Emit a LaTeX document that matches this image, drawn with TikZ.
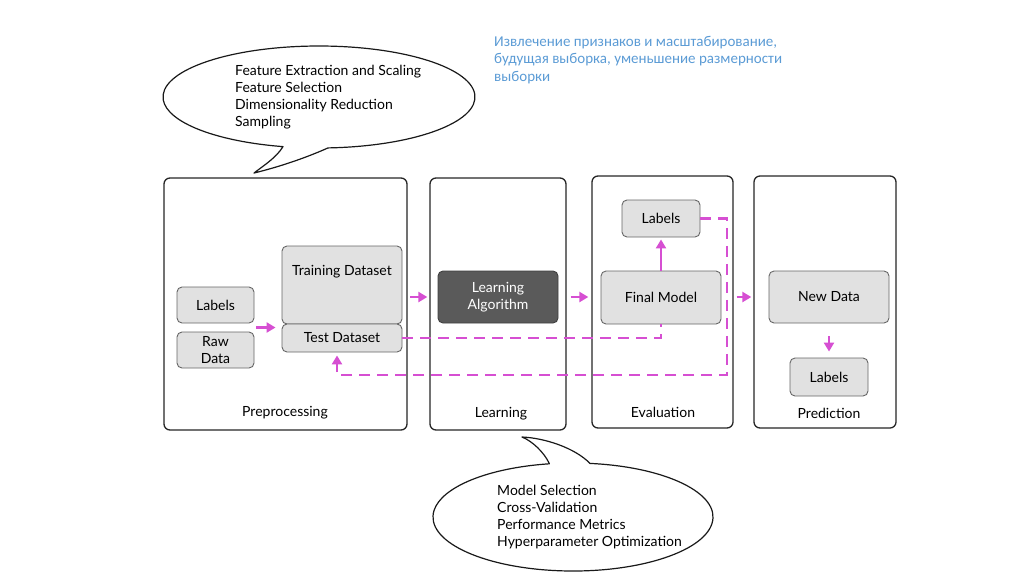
\documentclass[tikz,border=0pt]{standalone}
\usepackage{fontspec}
\setmainfont{Lato}
\newfontfamily\rufont{Carlito}
\usetikzlibrary{arrows.meta,calc}
\definecolor{flowmag}{HTML}{D64FD2}
\definecolor{noteblue}{HTML}{5B9BD5}
\definecolor{boxgray}{HTML}{E1E1E1}
\definecolor{algogray}{HTML}{5A5A5A}
\begin{document}
\begin{tikzpicture}[x=1pt,y=-1pt,
  stage/.style={draw=black!85, line width=1.3pt, rounded corners=6pt, fill=white, inner sep=0pt},
  inbox/.style={draw=black!60, line width=0.9pt, rounded corners=5pt, fill=boxgray,
    font=\fontsize{14}{16.5}\selectfont, align=center, inner sep=0pt},
  algobox/.style={inbox, draw=black!75, fill=algogray, text=white},
  txt/.style={font=\fontsize{14}{16.5}\selectfont, inner sep=0pt},
  listtxt/.style={font=\fontsize{14}{17}\selectfont, align=left, inner sep=0pt},
  flow/.style={draw=flowmag, line width=2.6pt, -{Triangle[length=9pt,width=10pt]}},
  backflow/.style={draw=flowmag, line width=2.5pt, dash pattern=on 11pt off 7pt},
  bubble/.style={draw=black!90, line width=1.2pt, fill=white, line join=round}
]
\useasboundingbox (0,0) rectangle (1024,574);

% stage frames
\node[stage, minimum width=243, minimum height=252] (pre) at (285.5,304) {};
\node[stage, minimum width=136, minimum height=252] (lrn) at (498,304) {};
\node[stage, minimum width=141, minimum height=252] (evl) at (662.5,302) {};
\node[stage, minimum width=142, minimum height=252] (prd) at (825,302) {};

\node[txt] (pretitle) at (285,413) {Preprocessing};
\node[txt] (lrntitle) at (501,414) {Learning};
\node[txt] (evltitle) at (663,412) {Evaluation};
\node[txt] (prdtitle) at (829,413) {Prediction};

% preprocessing
\node[inbox, minimum width=77, minimum height=36] (labin) at (215.5,305) {Labels};
\node[inbox, minimum width=77, minimum height=36] (raw) at (215.5,350) {Raw\\Data};
\node[inbox, minimum width=120, minimum height=78] (train) at (342,285) {};
\node[txt] (traintxt) at (342,272) {Training Dataset};
\node[inbox, minimum width=120, minimum height=28] (test) at (342,338) {Test Dataset};

% learning
\node[algobox, minimum width=120, minimum height=52] (alg) at (498,297) {Learning\\Algorithm};

% evaluation
\node[inbox, minimum width=78, minimum height=37] (evlab) at (661,218.5) {Labels};
\node[inbox, minimum width=120, minimum height=53] (final) at (661,297.5) {Final Model};

% prediction
\node[inbox, minimum width=120, minimum height=52] (newd) at (829,297) {New Data};
\node[inbox, minimum width=78, minimum height=38] (prlab) at (829,377) {Labels};

% forward flow
\coordinate (inmid) at ($(labin.south east)!0.5!(raw.north east)$);
\draw[flow, shorten <=2pt, shorten >=6pt] (inmid) -- (inmid -| test.west);
\draw[flow, shorten <=8pt, shorten >=2pt] (train.east |- alg.west) -- (lrn.west |- alg.west);
\draw[flow, shorten <=4pt, shorten >=3pt] (lrn.east |- alg.east) -- (evl.west |- alg.east);
\draw[flow, shorten <=3pt, shorten >=2pt] (evl.east |- alg.east) -- (prd.west |- alg.east);
\draw[flow, shorten >=2pt] (final.north) -- (evlab.south);
\draw[flow, shorten <=13pt, shorten >=6pt] (newd.south) -- (prlab.north);

% feedback loops
\draw[backflow] (test.east) -| (final.south);
\coordinate (loopcorner) at (727,375);
\coordinate (testin) at ($(test.south)+(-5,0)$);
\draw[backflow] (evlab.east) -| (loopcorner) -| ($(testin)+(0,12)$);
\draw[flow, shorten >=3pt] ($(testin)+(0,14)$) -- (testin);

% callout over preprocessing
\coordinate (c1) at (319,97);
\coordinate (r1) at ($(c1)+(86.69:156 and 51)$);
\coordinate (t1) at (254,173);
\draw[bubble] (r1) arc[start angle=86.69, end angle=-256.66, x radius=156, y radius=51]
  .. controls (276,158) and (263,166) .. (t1)
  .. controls (283,166) and (310,156) .. (r1) -- cycle;
\node[listtxt, anchor=west] (prenote) at (235,97) {Feature Extraction and Scaling\\Feature Selection\\Dimensionality Reduction\\Sampling};

% callout under learning
\coordinate (c2) at (573,517);
\coordinate (r2) at ($(c2)+(276.97:140 and 54)$);
\coordinate (t2) at (522,437);
\draw[bubble] (r2) arc[start angle=276.97, end angle=620.3, x radius=140, y radius=54]
  .. controls (544,452) and (532,441) .. (t2)
  .. controls (545,438) and (575,448) .. (r2) -- cycle;
\node[listtxt, anchor=west] (lrnnote) at (497,517) {Model Selection\\Cross-Validation\\Performance Metrics\\Hyperparameter Optimization};

% russian note
\node[font=\rufont\fontsize{15}{17.3}\selectfont, text=noteblue, align=left, inner sep=0pt, anchor=north west] (runote) at (494,36)
  {Извлечение признаков и масштабирование,\\будущая выборка, уменьшение размерности\\выборки};
\end{tikzpicture}
\end{document}
